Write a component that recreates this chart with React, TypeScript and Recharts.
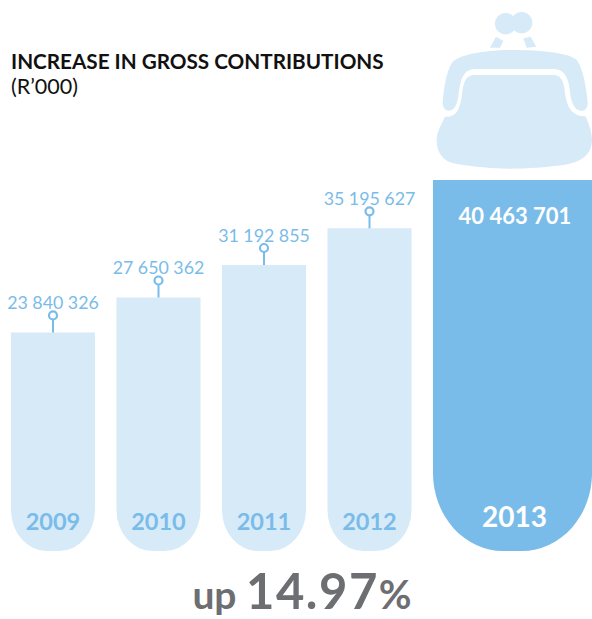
import { BarChart, Bar, XAxis, YAxis } from "recharts";

const years = ["2009", "2010", "2011", "2012", "2013"];
const contributions = [23840326, 27650362, 31192855, 35195627, 40463701];
const valueLabels = ["23 840 326", "27 650 362", "31 192 855", "35 195 627", "40 463 701"];

const LIGHT = "#d7eaf8";
const BLUE = "#7abce9";
const GREY = "#6d6e71";
const FONT = "Lato, 'Open Sans', sans-serif";

const data = years.map((year, i) => ({
  year,
  value: contributions[i],
  label: valueLabels[i],
}));

// the 2013 bar is drawn wider than the band, the rest sit on the band width
function PurseBar(props: any) {
  const { x, y, width, height, payload } = props;
  const hero = payload.year === "2013";
  const w = hero ? width * 1.893 : width;
  const rx = hero ? 70 : 36;
  const ry = hero ? 78 : 41;
  const bottom = y + height;
  const cx = x + w / 2;
  const d = `M${x} ${y} H${x + w} V${bottom - ry} A${rx} ${ry} 0 0 1 ${x + w - rx} ${bottom} H${x + rx} A${rx} ${ry} 0 0 1 ${x} ${bottom - ry} Z`;

  return (
    <g>
      <path d={d} fill={hero ? BLUE : LIGHT} />
      {hero ? (
        <>
          <text x={cx + 2.5} y={y + 44} textAnchor="middle" fontFamily={FONT} fontWeight={700} fontSize={22} fill="#fff">
            {payload.label}
          </text>
          <text x={cx + 2} y={bottom - 24} textAnchor="middle" fontFamily={FONT} fontWeight={700} fontSize={28} fill="#fff">
            {payload.year}
          </text>
        </>
      ) : (
        <>
          <line x1={cx} x2={cx} y1={y} y2={y - 13} stroke={BLUE} strokeWidth={2} />
          <circle cx={cx} cy={y - 17} r={4} fill="#fff" stroke={BLUE} strokeWidth={2.2} />
          <text x={cx} y={y - 23} textAnchor="middle" fontFamily={FONT} fontSize={17.8} fill={BLUE}>
            {payload.label}
          </text>
          <text x={cx} y={bottom - 21} textAnchor="middle" fontFamily={FONT} fontWeight={700} fontSize={23.5} fill={BLUE}>
            {payload.year}
          </text>
        </>
      )}
    </g>
  );
}

// purse outline traced at 3x, scaled back down
function Purse() {
  return (
    <g transform="translate(420 0) scale(0.3333)" fill={LIGHT}>
      <circle cx={257} cy={71} r={32} />
      <circle cx={305} cy={68} r={32} />
      <path d="M210 143 L228 110 L250 122 L240 143 Z" />
      <path d="M310 115 L332 110 L349 140 L320 143 Z" />
      <path d="M68 305 C72 260 80 215 95 190 C110 165 190 150 280 150 C370 150 450 160 470 180 C490 205 498 260 503 305 C504 325 495 332 485 332 C470 332 458 320 452 290 C448 255 445 207 400 207 L165 207 C125 207 120 250 115 290 C110 320 100 332 85 332 C75 332 67 322 68 305 Z" />
      <path d="M165 225 L400 225 C430 225 432 255 437 290 C443 325 460 350 497 349 C505 370 516 395 516 420 C516 465 480 488 430 495 C380 502 320 506 270 506 C220 506 160 500 110 492 C70 485 50 460 50 420 C50 395 65 372 75 350 C110 352 120 325 125 290 C130 255 132 225 165 225 Z" />
    </g>
  );
}

export default function App() {
  return (
    <div style={{ position: "absolute", left: 0, top: 0, width: 592, height: 619, background: "#fff" }}>
      <BarChart
        width={592}
        height={619}
        data={data}
        margin={{ top: 180, right: 64.5, bottom: 68, left: 0 }}
        barCategoryGap={0}
      >
        <XAxis dataKey="year" hide />
        <YAxis hide domain={[0, contributions[4]]} />
        <Bar dataKey="value" barSize={84} shape={<PurseBar />} isAnimationActive={false} />
        <Purse />
        <text x={11} y={69} fontFamily={FONT} fontWeight={700} fontSize={20.7} fill="#111">
          INCREASE IN GROSS CONTRIBUTIONS
        </text>
        <text x={11} y={94} fontFamily={FONT} fontSize={21.5} fill="#111">
          (R’000)
        </text>
        <text x={302} y={609} textAnchor="middle" fontFamily={FONT} fontWeight={700} fill={GREY}>
          <tspan fontSize={39}>up </tspan>
          <tspan fontSize={49} letterSpacing={1.5}>14.97</tspan>
          <tspan fontSize={40}>%</tspan>
        </text>
      </BarChart>
    </div>
  );
}
